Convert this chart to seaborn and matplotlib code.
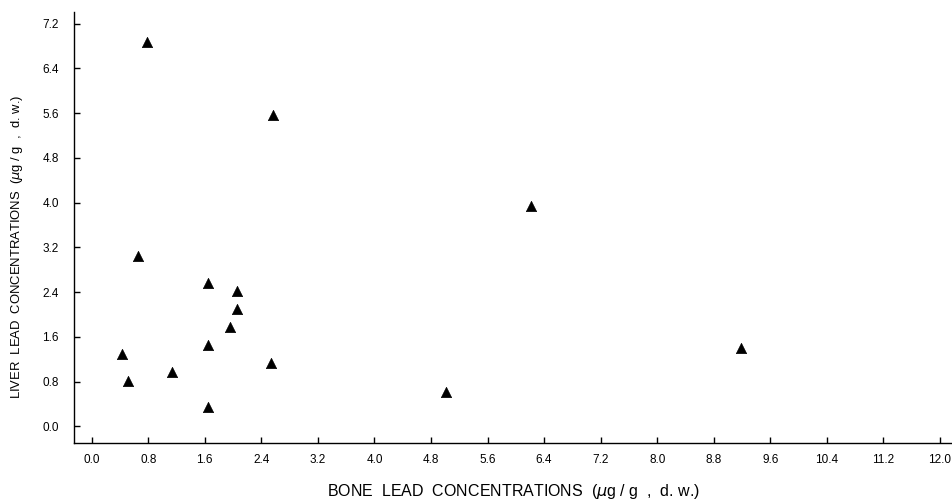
import numpy as np
import pandas as pd
import matplotlib
matplotlib.use("Agg")
import matplotlib.pyplot as plt
import seaborn as sns

# Bone vs liver lead concentrations
bone_lead = [0.78, 2.57, 0.65, 1.65, 2.05, 2.06, 1.95, 1.64, 0.43, 2.54,
             1.13, 0.51, 1.64, 5.01, 6.21, 9.18]
liver_lead = [6.87, 5.56, 3.04, 2.56, 2.42, 2.09, 1.77, 1.45, 1.29, 1.13,
              0.97, 0.81, 0.34, 0.61, 3.94, 1.40]

x_ticks = [0.0, 0.8, 1.6, 2.4, 3.2, 4.0, 4.8, 5.6, 6.4, 7.2, 8.0, 8.8,
           9.6, 10.4, 11.2, 12.0]
y_ticks = [0.0, 0.8, 1.6, 2.4, 3.2, 4.0, 4.8, 5.6, 6.4, 7.2]

df = pd.DataFrame({"bone": bone_lead, "liver": liver_lead})

sns.set_style("ticks")
plt.rcParams["font.family"] = ["Liberation Sans", "DejaVu Sans"]

fig = plt.figure(figsize=(9.52, 5.01), dpi=100)
ax = fig.add_axes([74 / 952, 1 - 443 / 501, 878 / 952, (443 - 12) / 501])

sns.scatterplot(data=df, x="bone", y="liver", marker="^", color="black",
                s=55, edgecolor="black", linewidth=0.5, ax=ax)

ax.set_xlim(-0.25, 12.17)
ax.set_ylim(-0.30, 7.41)
ax.set_xticks(x_ticks)
ax.set_yticks(y_ticks)
ax.set_xticklabels([f"{v:.1f}" for v in x_ticks])
ax.set_yticklabels([f"{v:.1f}" for v in y_ticks])

for side in ["top", "right"]:
    ax.spines[side].set_visible(False)
for side in ["left", "bottom"]:
    ax.spines[side].set_linewidth(1.0)
    ax.spines[side].set_color("black")

ax.tick_params(axis="both", direction="in", length=4, width=1.0,
               colors="black", labelsize=8.5)
ax.tick_params(axis="y", pad=11)
ax.tick_params(axis="x", pad=8)

ax.set_xlabel("BONE  LEAD  CONCENTRATIONS  ($\\mu$g / g  ,  d. w.)",
              fontsize=11.5, color="black")
ax.set_ylabel("LIVER  LEAD  CONCENTRATIONS  ($\\mu$g / g  ,  d. w.)",
              fontsize=9.4, color="black")
# label anchors: top edge of x label, right edge of y label
ax.xaxis.set_label_coords((514 - 74) / 878, -(482 - 443) / 431)
ax.yaxis.set_label_coords(-(74 - 25) / 878, (443 - 247) / 431)

fig.savefig("out.png", dpi=100, facecolor="white")
